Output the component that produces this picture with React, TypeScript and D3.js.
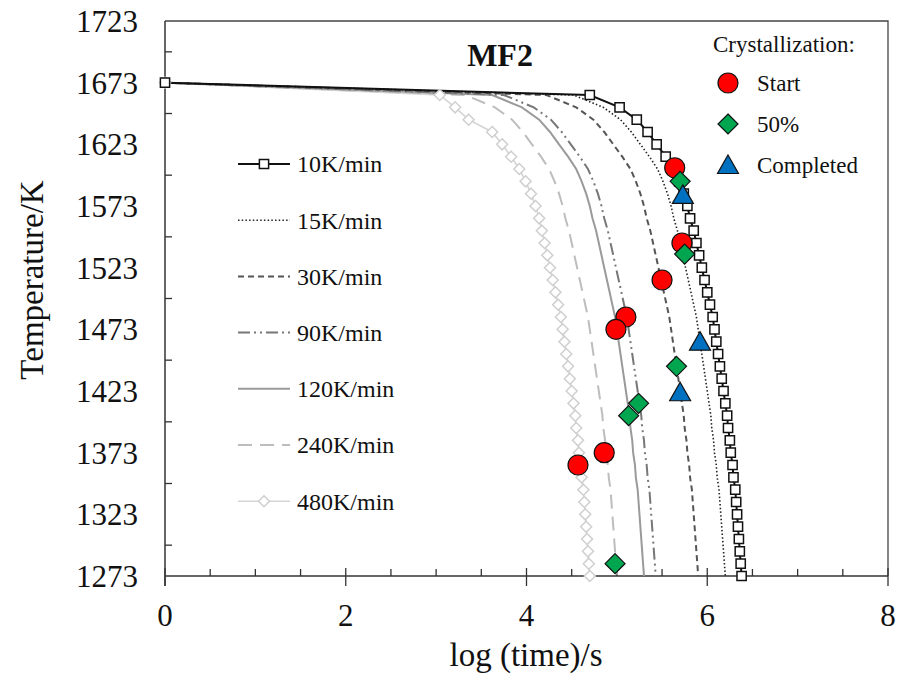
import React from 'react'
import * as d3 from 'd3'

// temperature levels (K) shared by all cooling curves
const temps = [1673, 1663, 1653, 1643, 1633, 1623, 1613, 1603, 1593, 1583, 1573, 1563, 1553, 1543, 1533, 1523, 1513, 1503, 1493, 1483, 1473, 1463, 1453, 1443, 1433, 1423, 1413, 1403, 1393, 1383, 1373, 1363, 1353, 1343, 1333, 1323, 1313, 1303, 1293, 1283, 1273]

// log(time) for each cooling rate
const logt10 = [0, 4.70, 5.03, 5.22, 5.34, 5.44, 5.54, 5.63, 5.69, 5.74, 5.78, 5.81, 5.85, 5.88, 5.91, 5.94, 5.97, 6.00, 6.03, 6.06, 6.08, 6.10, 6.12, 6.14, 6.16, 6.18, 6.20, 6.22, 6.23, 6.25, 6.26, 6.28, 6.29, 6.31, 6.32, 6.33, 6.34, 6.35, 6.36, 6.37, 6.38]
const logt15 = [0, 4.52, 4.85, 5.04, 5.16, 5.26, 5.36, 5.45, 5.51, 5.56, 5.60, 5.63, 5.67, 5.70, 5.73, 5.76, 5.79, 5.82, 5.85, 5.88, 5.90, 5.92, 5.94, 5.96, 5.98, 6.00, 6.02, 6.04, 6.05, 6.07, 6.08, 6.10, 6.11, 6.13, 6.14, 6.15, 6.16, 6.17, 6.18, 6.19, 6.20]
const logt30 = [0, 4.22, 4.55, 4.74, 4.86, 4.96, 5.06, 5.15, 5.21, 5.26, 5.30, 5.33, 5.37, 5.40, 5.43, 5.46, 5.49, 5.52, 5.55, 5.58, 5.60, 5.62, 5.64, 5.66, 5.68, 5.70, 5.72, 5.74, 5.75, 5.77, 5.78, 5.80, 5.81, 5.83, 5.84, 5.85, 5.86, 5.87, 5.88, 5.89, 5.90]
const logt90 = [0, 3.75, 4.08, 4.27, 4.39, 4.49, 4.59, 4.68, 4.74, 4.79, 4.83, 4.86, 4.90, 4.93, 4.96, 4.99, 5.02, 5.05, 5.08, 5.11, 5.13, 5.15, 5.17, 5.19, 5.21, 5.23, 5.25, 5.27, 5.28, 5.30, 5.31, 5.33, 5.34, 5.36, 5.37, 5.38, 5.39, 5.40, 5.41, 5.42, 5.43]
const logt120 = [0, 3.62, 3.95, 4.14, 4.26, 4.36, 4.46, 4.55, 4.61, 4.66, 4.70, 4.73, 4.77, 4.80, 4.83, 4.86, 4.89, 4.92, 4.95, 4.98, 5.00, 5.02, 5.04, 5.06, 5.08, 5.10, 5.12, 5.14, 5.15, 5.17, 5.18, 5.20, 5.21, 5.23, 5.24, 5.25, 5.26, 5.27, 5.28, 5.29, 5.30]
const logt240 = [0, 3.32, 3.65, 3.84, 3.96, 4.06, 4.16, 4.25, 4.31, 4.36, 4.40, 4.43, 4.47, 4.50, 4.53, 4.56, 4.59, 4.62, 4.65, 4.68, 4.70, 4.72, 4.74, 4.76, 4.78, 4.80, 4.82, 4.84, 4.85, 4.87, 4.88, 4.90, 4.91, 4.93, 4.94, 4.95, 4.96, 4.97, 4.98, 4.99, 5.00]
const logt480 = [0, 3.04, 3.21, 3.36, 3.62, 3.73, 3.83, 3.92, 3.99, 4.05, 4.10, 4.14, 4.17, 4.20, 4.23, 4.26, 4.29, 4.32, 4.35, 4.38, 4.40, 4.42, 4.44, 4.46, 4.48, 4.50, 4.52, 4.54, 4.55, 4.57, 4.58, 4.60, 4.61, 4.63, 4.64, 4.65, 4.66, 4.67, 4.68, 4.69, 4.70]

const rateLabels = ['10K/min', '15K/min', '30K/min', '90K/min', '120K/min', '240K/min', '480K/min']

// crystallization points
const startX = [5.64, 5.72, 5.50, 5.10, 4.99, 4.86, 4.57]
const startT = [1604, 1543, 1513, 1483, 1473, 1373, 1363]
const halfX = [5.70, 5.75, 5.66, 5.24, 5.13, 4.98]
const halfT = [1593, 1534, 1443, 1413, 1403, 1283]
const doneX = [5.73, 5.92, 5.70]
const doneT = [1582, 1463, 1422]

const yTicks = [1273, 1323, 1373, 1423, 1473, 1523, 1573, 1623, 1673, 1723]
const xTicks = [0, 2, 4, 6, 8]
const legendLabels = ['Start', '50%', 'Completed']

const W = 900
const H = 677
const font = "'Liberation Serif', 'Times New Roman', serif"

const styles = [
	{ color: '#111', width: 2, dash: null },
	{ color: '#222', width: 1.6, dash: '1.5,2.2' },
	{ color: '#555', width: 2, dash: '6,4' },
	{ color: '#777', width: 2, dash: '12,4,2,4,2,4' },
	{ color: '#9a9a9a', width: 2, dash: null },
	{ color: '#bdbdbd', width: 2, dash: '14,8' },
	{ color: '#d4d4d4', width: 1.6, dash: null },
]

export default function App() {
	const x = d3.scaleLinear().domain([0, 8]).range([165, 888])
	const y = d3.scaleLinear().domain([1273, 1723]).range([576, 21])

	const series = [logt10, logt15, logt30, logt90, logt120, logt240, logt480]
	const line = d3.line<number>()
		.x(d => d)
		.y((d, i) => y(temps[i]))

	const paths = series.map(s => line(s.map(v => x(v))))

	const minorX = d3.range(0.5, 8, 0.5).filter(v => v % 2 !== 0)
	const minorY = d3.range(1298, 1723, 50)

	const square = d3.symbol().type(d3.symbolSquare).size(85)()
	const smallDiamond = (cx: number, cy: number, r: number) =>
		`M${cx},${cy - r}L${cx + r},${cy}L${cx},${cy + r}L${cx - r},${cy}Z`
	const triangle = (cx: number, cy: number, r: number) =>
		`M${cx},${cy - r}L${cx + r * 1.05},${cy + r * 0.85}L${cx - r * 1.05},${cy + r * 0.85}Z`

	const legendY = d3.range(7).map(i => 164 + i * 56.2)

	return (
		<svg width={W} height={H} style={{ position: 'absolute', left: 0, top: 0, background: '#fff' }} fontFamily={font}>
			{/* frame */}
			<path d={`M${x(0)},${y(1723)}H${x(8)}V${y(1273)}`} fill="none" stroke="#444" strokeWidth={1.3} />
			<line x1={x(0)} x2={x(0)} y1={y(1723)} y2={y(1273) + 10} stroke="#333" strokeWidth={1.5} />
			<line x1={x(0)} x2={x(8)} y1={y(1273)} y2={y(1273)} stroke="#333" strokeWidth={1.5} />

			{/* ticks */}
			{xTicks.map(v => (
				<line key={'xt' + v} x1={x(v)} x2={x(v)} y1={y(1273) - 8} y2={y(1273) + 10} stroke="#333" strokeWidth={1.3} />
			))}
			{minorX.map(v => (
				<line key={'xm' + v} x1={x(v)} x2={x(v)} y1={y(1273) - 7} y2={y(1273)} stroke="#333" strokeWidth={1.3} />
			))}
			{minorY.map(v => (
				<line key={'ym' + v} x1={x(0)} x2={x(0) + 7} y1={y(v)} y2={y(v)} stroke="#333" strokeWidth={1.3} />
			))}

			{/* tick labels */}
			{yTicks.map(v => (
				<text key={'yl' + v} x={138} y={y(v)} dy="0.35em" textAnchor="end" fontSize={31} fill="#111">{v}</text>
			))}
			{xTicks.map(v => (
				<text key={'xl' + v} x={x(v)} y={626} textAnchor="middle" fontSize={31} fill="#111">{v}</text>
			))}

			{/* axis titles */}
			<text x={526} y={666} textAnchor="middle" fontSize={33} fill="#111">log (time)/s</text>
			<text transform="translate(43,280) rotate(-90)" textAnchor="middle" fontSize={33} fill="#111">Temperature/K</text>
			<text x={500} y={66} textAnchor="middle" fontSize={32} fontWeight="bold" fill="#111">MF2</text>

			{/* curves, fastest first */}
			{paths.map((p, i) => i).reverse().map(i => (
				<path key={'c' + i} d={paths[i] || ''} fill="none" stroke={styles[i].color} strokeWidth={styles[i].width}
					strokeDasharray={styles[i].dash || undefined} />
			))}
			{logt480.map((v, i) => (
				<path key={'d' + i} d={smallDiamond(x(v), y(temps[i]), 5.5)} fill="#fff" stroke="#cfcfcf" strokeWidth={1.5} />
			))}
			{logt10.map((v, i) => (
				<path key={'s' + i} d={square} transform={`translate(${x(v)},${y(temps[i])})`} fill="#fff" stroke="#111" strokeWidth={1.5} />
			))}

			{/* crystallization markers */}
			{startX.map((v, i) => (
				<circle key={'r' + i} cx={x(v)} cy={y(startT[i])} r={10} fill="#ff0000" stroke="#111" strokeWidth={1.2} />
			))}
			{halfX.map((v, i) => (
				<path key={'g' + i} d={smallDiamond(x(v), y(halfT[i]), 10)} fill="#00a550" stroke="#111" strokeWidth={1.2} />
			))}
			{doneX.map((v, i) => (
				<path key={'b' + i} d={triangle(x(v), y(doneT[i]), 10)} fill="#0070c0" stroke="#111" strokeWidth={1.2} />
			))}

			{/* left legend */}
			{rateLabels.map((lab, i) => (
				<g key={'lg' + i}>
					<line x1={238} x2={290} y1={legendY[i]} y2={legendY[i]} stroke={styles[i].color} strokeWidth={styles[i].width}
						strokeDasharray={styles[i].dash || undefined} />
					{i === 0 && <path d={square} transform={`translate(264,${legendY[i]})`} fill="#fff" stroke="#111" strokeWidth={1.5} />}
					{i === 6 && <path d={smallDiamond(264, legendY[i], 5.5)} fill="#fff" stroke="#cfcfcf" strokeWidth={1.5} />}
					<text x={297} y={legendY[i]} dy="0.35em" fontSize={24} fill="#111">{lab}</text>
				</g>
			))}

			{/* right legend */}
			<text x={713} y={52} fontSize={23} fill="#111">Crystallization:</text>
			{legendLabels.map((lab, i) => {
				const ly = 83 + i * 41
				return (
					<g key={'rl' + i}>
						{i === 0 && <circle cx={728} cy={ly} r={10} fill="#ff0000" stroke="#111" strokeWidth={1.2} />}
						{i === 1 && <path d={smallDiamond(728, ly, 10)} fill="#00a550" stroke="#111" strokeWidth={1.2} />}
						{i === 2 && <path d={triangle(728, ly, 10)} fill="#0070c0" stroke="#111" strokeWidth={1.2} />}
						<text x={757} y={ly} dy="0.35em" fontSize={23} fill="#111">{lab}</text>
					</g>
				)
			})}
		</svg>
	)
}
